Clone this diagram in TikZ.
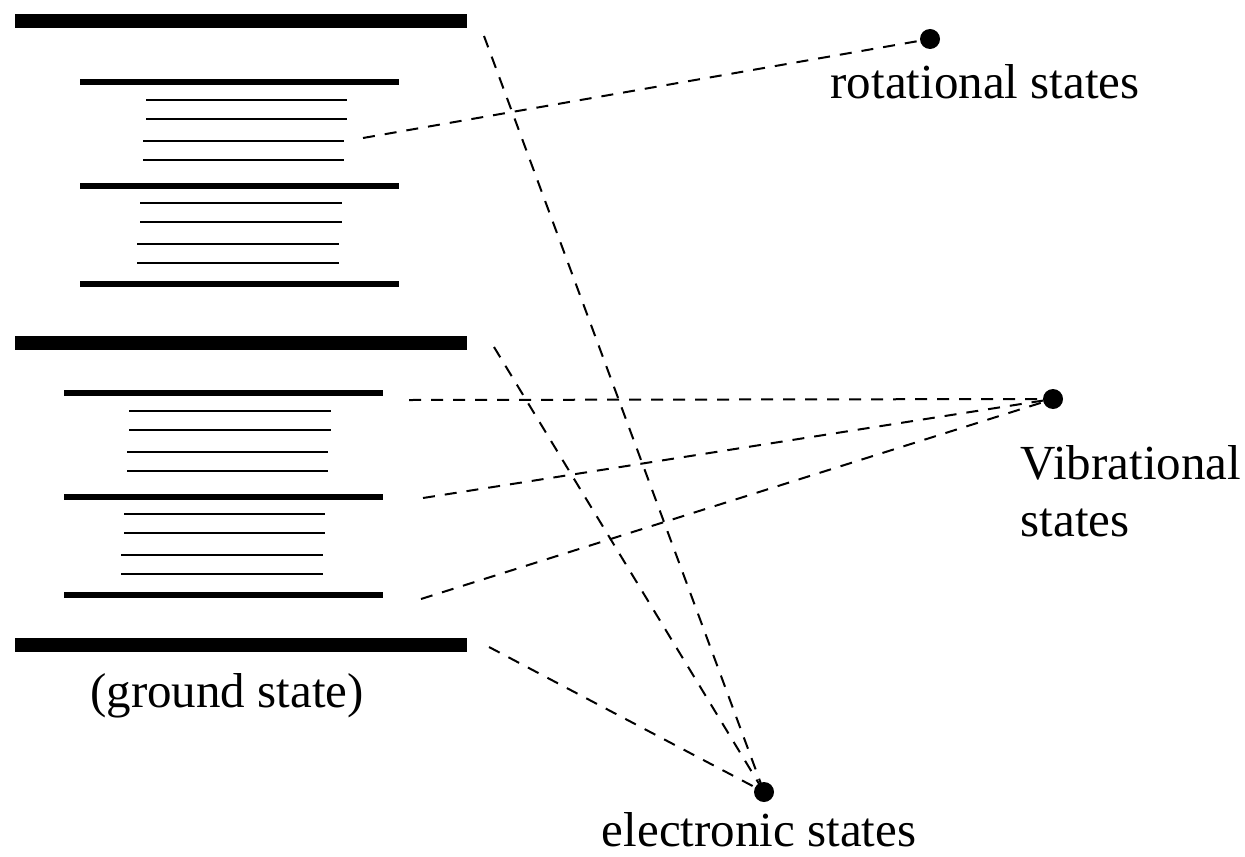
\documentclass[tikz,border=0pt]{standalone}
\usepackage{fontspec}
\setmainfont{Liberation Serif}
\tikzset{
  elbar/.style={line width=7pt},
  vibbar/.style={line width=3pt},
  rotline/.style={line width=1.4pt},
  link/.style={line width=1pt,dash pattern=on 6pt off 5pt},
  statedot/.style={circle,fill=black,inner sep=0pt,minimum size=10pt},
  label/.style={font=\fontsize{24.5}{28.5}\selectfont,inner sep=0pt}
}
\begin{document}
\begin{tikzpicture}[x=0.5pt,y=-0.5pt,thick]
    \useasboundingbox (0,0) rectangle (1245,856);

    % upper electronic state
    \draw[elbar] (15,21)--(467,21);
    \foreach \y in {82,186,284} \draw[vibbar] (80,\y)--(399,\y);
    \foreach \y in {100,119} \draw[rotline] (146,\y)--(347,\y);
    \foreach \y in {141,160} \draw[rotline] (143,\y)--(344,\y);
    \foreach \y in {203,222} \draw[rotline] (140,\y)--(342,\y);
    \foreach \y in {244,263} \draw[rotline] (137,\y)--(339,\y);

    % lower electronic state
    \draw[elbar] (15,343)--(467,343);
    \foreach \y in {393,497,595} \draw[vibbar] (64,\y)--(383,\y);
    \foreach \y in {411,430} \draw[rotline] (129,\y)--(331,\y);
    \foreach \y in {452,471} \draw[rotline] (127,\y)--(328,\y);
    \foreach \y in {514,533} \draw[rotline] (124,\y)--(325,\y);
    \foreach \y in {555,574} \draw[rotline] (121,\y)--(323,\y);

    % ground state
    \draw[elbar] (15,645)--(467,645);
    \node[label,anchor=base] (ground) at (227,707) {(ground state)};

    \node[statedot] (rotdot) at (930,39) {};
    \node[statedot] (vibdot) at (1053,399) {};
    \node[statedot] (eldot) at (764,792) {};

    \node[label,anchor=base] (rottext) at (985,98) {rotational states};
    \node[label,anchor=base west,align=left] (vibtext) at (1020,536)
          {Vibrational\\states};
    \node[label,anchor=base] (eltext) at (759,846) {electronic states};

    \coordinate (r1) at (363,138);
    \coordinate (v1) at (409,400);
    \coordinate (v2) at (423,498);
    \coordinate (v3) at (421,599);
    \coordinate (e1) at (484,36);
    \coordinate (e2) at (494,347);
    \coordinate (e3) at (489,647);

    \draw[link] (r1)--(rotdot.center);
    \foreach \c in {v1,v2,v3} \draw[link] (\c)--(vibdot.center);
    \foreach \c in {e1,e2,e3} \draw[link] (\c)--(eldot.center);

\end{tikzpicture}
\end{document}
